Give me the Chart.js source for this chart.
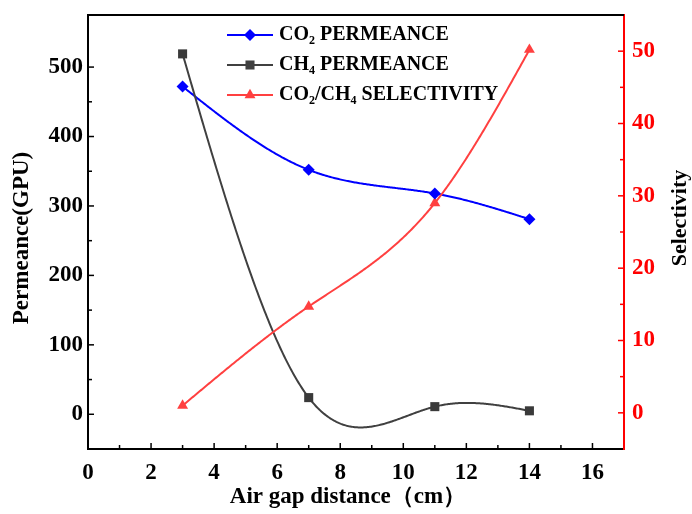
<!DOCTYPE html>
<html>
<head>
<meta charset="utf-8">
<script src="https://cdn.jsdelivr.net/npm/chart.js@4/dist/chart.umd.min.js"></script>
<style>
  html, body { margin: 0; padding: 0; background: #fff; }
  #wrap { width: 692px; height: 514px; }
</style>
</head>
<body>
<div id="wrap"><canvas id="chart" width="692" height="514"></canvas></div>
<script>
const gapCm = [3, 7, 11, 14];
const co2Perm = [472, 352, 318, 281];
const ch4Perm = [519, 24, 11, 5];
const selectivity = [1.0, 14.7, 29.0, 50.2];

const xTicks = [0, 2, 4, 6, 8, 10, 12, 14, 16];
const permTicks = [0, 100, 200, 300, 400, 500];
const selTicks = [0, 10, 20, 30, 40, 50];

const FONT = "'Liberation Serif', 'Times New Roman', serif";
const BLUE = '#0000ff';
const GREY = '#404040';
const RED = '#ff4040';

// natural cubic spline, like Origin's "Spline" connect
function naturalSpline(xs, ys) {
    const n = xs.length;
    const h = [];
    for (let i = 0; i < n - 1; i++) h.push(xs[i + 1] - xs[i]);
    const M = new Array(n).fill(0);
    if (n > 2) {
        const a = [], b = [], c = [], d = [];
        for (let i = 1; i < n - 1; i++) {
            a.push(h[i - 1]);
            b.push(2 * (h[i - 1] + h[i]));
            c.push(h[i]);
            d.push(6 * ((ys[i + 1] - ys[i]) / h[i] - (ys[i] - ys[i - 1]) / h[i - 1]));
        }
        const m = b.length;
        for (let i = 1; i < m; i++) {
            const w = a[i] / b[i - 1];
            b[i] -= w * c[i - 1];
            d[i] -= w * d[i - 1];
        }
        const sol = new Array(m);
        sol[m - 1] = d[m - 1] / b[m - 1];
        for (let i = m - 2; i >= 0; i--) sol[i] = (d[i] - c[i] * sol[i + 1]) / b[i];
        for (let i = 0; i < m; i++) M[i + 1] = sol[i];
    }
    return x => {
        let i = 0;
        while (i < n - 2 && x > xs[i + 1]) i++;
        const hi = h[i], A = xs[i + 1] - x, B = x - xs[i];
        return M[i] * A * A * A / (6 * hi) + M[i + 1] * B * B * B / (6 * hi)
            + (ys[i] / hi - M[i] * hi / 6) * A + (ys[i + 1] / hi - M[i + 1] * hi / 6) * B;
    };
}

function drawMarker(ctx, style, color, x, y, r) {
    ctx.save();
    ctx.fillStyle = color;
    ctx.beginPath();
    if (style === 'rectRot') {
        ctx.moveTo(x, y - r); ctx.lineTo(x + r, y); ctx.lineTo(x, y + r); ctx.lineTo(x - r, y);
    } else if (style === 'rect') {
        const s = r * Math.SQRT1_2;
        ctx.rect(x - s, y - s, 2 * s, 2 * s);
    } else {
        const side = r * 3 / Math.sqrt(3), hgt = side * Math.sqrt(3) / 2;
        ctx.moveTo(x - side / 2, y + hgt / 3);
        ctx.lineTo(x + side / 2, y + hgt / 3);
        ctx.lineTo(x, y - 2 * hgt / 3);
    }
    ctx.closePath();
    ctx.fill();
    ctx.restore();
}

// text with subscripts: parts = [[text, isSub], ...]
function drawRich(ctx, parts, x, y, size) {
    let cx = x;
    parts.forEach(([t, sub]) => {
        ctx.font = `bold ${sub ? Math.round(size * 0.62) : size}px ${FONT}`;
        ctx.fillText(t, cx, sub ? y + size * 0.28 : y);
        cx += ctx.measureText(t).width;
    });
}

const splinePlugin = {
    id: 'splineLines',
    beforeDatasetsDraw(chart) {
        const ctx = chart.ctx, area = chart.chartArea, xs = chart.scales.x;
        ctx.save();
        ctx.beginPath();
        ctx.rect(area.left, area.top, area.right - area.left, area.bottom - area.top);
        ctx.clip();
        chart.data.datasets.forEach(ds => {
            const ys = chart.scales[ds.yAxisID];
            const xv = ds.data.map(p => p.x), yv = ds.data.map(p => p.y);
            const f = naturalSpline(xv, yv);
            ctx.beginPath();
            const x0 = xv[0], x1 = xv[xv.length - 1];
            for (let k = 0; k <= 300; k++) {
                const x = x0 + (x1 - x0) * k / 300;
                const px = xs.getPixelForValue(x), py = ys.getPixelForValue(f(x));
                if (k === 0) ctx.moveTo(px, py); else ctx.lineTo(px, py);
            }
            ctx.strokeStyle = ds.lineColor;
            ctx.lineWidth = 2;
            ctx.stroke();
        });
        ctx.restore();
    }
};

const framePlugin = {
    id: 'frame',
    afterDraw(chart) {
        const ctx = chart.ctx, a = chart.chartArea;
        ctx.save();
        // top frame line
        ctx.strokeStyle = '#000';
        ctx.lineWidth = 2;
        ctx.beginPath();
        ctx.moveTo(a.left - 1, a.top);
        ctx.lineTo(a.right, a.top);
        ctx.stroke();

        // inward ticks
        const tick = (scale, color, isMajor, vertical, side) => {
            ctx.strokeStyle = color;
            ctx.lineWidth = 1.5;
            scale.ticks.forEach(t => {
                const v = t.value;
                const len = isMajor(v) ? 6 : 4;
                const p = scale.getPixelForValue(v);
                if (vertical) {
                    if (p < a.top + 2 || p > a.bottom - 2) return;
                    const x = side === 'left' ? a.left : a.right;
                    const dir = side === 'left' ? 1 : -1;
                    ctx.beginPath(); ctx.moveTo(x, p); ctx.lineTo(x + dir * len, p); ctx.stroke();
                } else {
                    if (p < a.left + 2 || p > a.right - 2) return;
                    ctx.beginPath(); ctx.moveTo(p, a.bottom); ctx.lineTo(p, a.bottom - len); ctx.stroke();
                }
            });
        };
        tick(chart.scales.x, '#000', v => v % 2 === 0, false);
        tick(chart.scales.y, '#000', v => v % 100 === 0, true, 'left');
        tick(chart.scales.y1, '#ff0000', v => v % 10 === 0, true, 'right');

        // axis titles
        ctx.fillStyle = '#000';
        ctx.textAlign = 'center';
        ctx.textBaseline = 'middle';
        ctx.font = `bold 23px ${FONT}`;
        ctx.save();
        ctx.translate(22, 238);
        ctx.rotate(-Math.PI / 2);
        ctx.fillText('Permeance(GPU)', 0, 0);
        ctx.restore();
        ctx.save();
        ctx.font = `bold 22px ${FONT}`;
        ctx.translate(680, 218);
        ctx.rotate(-Math.PI / 2);
        ctx.fillText('Selectivity', 0, 0);
        ctx.restore();
        ctx.fillText('Air gap distance（cm）', 348, 497);

        // legend
        const rows = [
            { y: 35, color: BLUE, style: 'rectRot', r: 6, parts: [['CO', 0], ['2', 1], [' PERMEANCE', 0]] },
            { y: 65, color: GREY, style: 'rect', r: 6.4, parts: [['CH', 0], ['4', 1], [' PERMEANCE', 0]] },
            { y: 95, color: RED, style: 'triangle', r: 6.3, parts: [['CO', 0], ['2', 1], ['/CH', 0], ['4', 1], [' SELECTIVITY', 0]] }
        ];
        ctx.textAlign = 'left';
        rows.forEach(row => {
            ctx.strokeStyle = row.color;
            ctx.lineWidth = 2;
            ctx.beginPath(); ctx.moveTo(227, row.y); ctx.lineTo(273, row.y); ctx.stroke();
            drawMarker(ctx, row.style, row.color, 250, row.y, row.r);
            ctx.fillStyle = '#000';
            drawRich(ctx, row.parts, 279, row.y, 20);
        });
        ctx.restore();
    }
};

const toXY = ys => gapCm.map((x, i) => ({ x: x, y: ys[i] }));

const fitY = w => s => { s.width = w; s.paddingTop = 0; s.paddingBottom = 0; };

new Chart(document.getElementById('chart').getContext('2d'), {
    type: 'scatter',
    data: {
        datasets: [
            { label: 'CO2 PERMEANCE', data: toXY(co2Perm), yAxisID: 'y', lineColor: BLUE,
              pointStyle: 'rectRot', pointRadius: 6, backgroundColor: BLUE, borderColor: BLUE, borderWidth: 0 },
            { label: 'CH4 PERMEANCE', data: toXY(ch4Perm), yAxisID: 'y', lineColor: GREY,
              pointStyle: 'rect', pointRadius: 6.4, backgroundColor: '#3a3a3a', borderColor: '#3a3a3a', borderWidth: 0 },
            { label: 'CO2/CH4 SELECTIVITY', data: toXY(selectivity), yAxisID: 'y1', lineColor: RED,
              pointStyle: 'triangle', pointRadius: 6.3, backgroundColor: RED, borderColor: RED, borderWidth: 0 }
        ]
    },
    options: {
        responsive: false,
        animation: false,
        layout: { padding: { top: 15, left: 0, right: 0, bottom: 0 } },
        plugins: { legend: { display: false }, tooltip: { enabled: false } },
        scales: {
            x: {
                type: 'linear', min: 0, max: 17,
                grid: { display: false, drawTicks: false },
                border: { color: '#000', width: 2 },
                ticks: {
                    stepSize: 1, autoSkip: false, maxRotation: 0, padding: 10,
                    color: '#000', font: { family: FONT, size: 23, weight: 'bold' },
                    callback: v => xTicks.includes(v) ? v : ''
                },
                afterFit: s => { s.height = 65; s.paddingLeft = 0; s.paddingRight = 0; }
            },
            y: {
                position: 'left', min: -50, max: 575,
                grid: { display: false, drawTicks: false },
                border: { color: '#000', width: 2 },
                ticks: {
                    stepSize: 50, autoSkip: false, padding: 5,
                    color: '#000', font: { family: FONT, size: 23, weight: 'bold' },
                    callback: v => permTicks.includes(v) ? v : ''
                },
                afterFit: fitY(88)
            },
            y1: {
                position: 'right', min: -5, max: 55,
                grid: { display: false, drawTicks: false },
                border: { color: '#ff0000', width: 2 },
                ticks: {
                    stepSize: 5, autoSkip: false, padding: 8,
                    color: '#ff0000', font: { family: FONT, size: 23, weight: 'bold' },
                    callback: v => selTicks.includes(v) ? v : ''
                },
                afterFit: fitY(68)
            }
        }
    },
    plugins: [splinePlugin, framePlugin]
});
</script>
</body>
</html>
